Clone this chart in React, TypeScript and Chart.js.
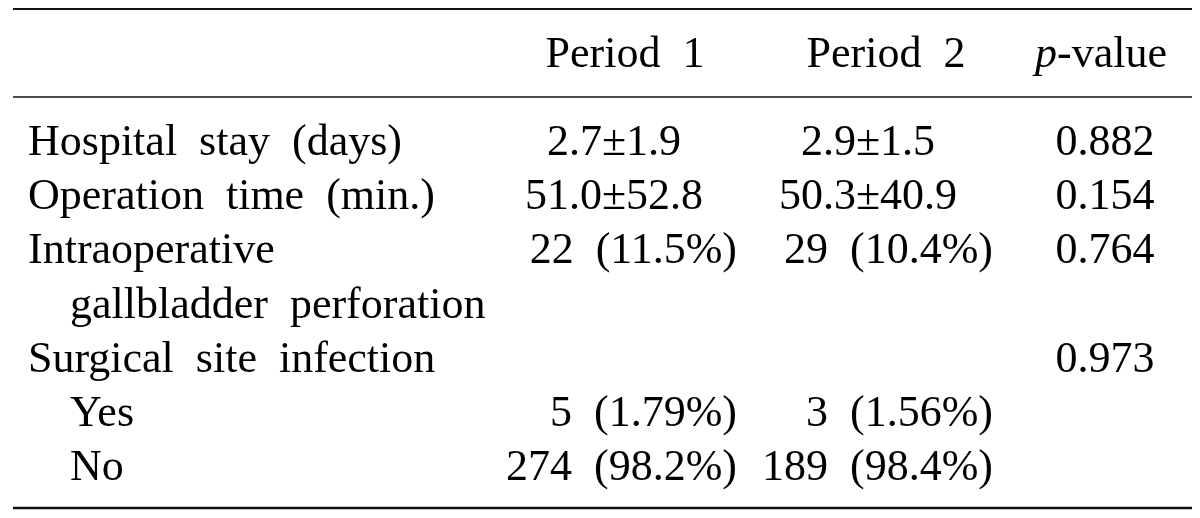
import React, { useEffect, useRef } from "react";
import { Chart, registerables } from "chart.js";

Chart.register(...registerables);

// ---- table content ----
const headers = ["", "Period  1", "Period  2", "p-value"];
const rowLabels = [
  "Hospital  stay  (days)",
  "Operation  time  (min.)",
  "Intraoperative",
  "gallbladder  perforation",
  "Surgical  site  infection",
  "Yes",
  "No",
];
const rowIndent = [0, 0, 0, 1, 0, 1, 1];
const period1 = ["2.7±1.9", "51.0±52.8", "22  (11.5%)", "", "", "5  (1.79%)", "274  (98.2%)"];
const period2 = ["2.9±1.5", "50.3±40.9", "29  (10.4%)", "", "", "3  (1.56%)", "189  (98.4%)"];
const pValues = ["0.882", "0.154", "0.764", "", "0.973", "", ""];

// ---- layout (scale units: x = px across 0..1200, y = row index) ----
const X_MIN = 0, X_MAX = 1200;
const Y_MIN = -2.583, Y_MAX = 6.974;
const LABEL_X = [28, 70];
const COLS = [
  { center: 614, right: 737, header: 625 },
  { center: 868, right: 993, header: 886 },
  { center: 1105, right: 1155, header: 1101 },
];
const HEADER_Y = -1.624;
const RULES = [
  { y: -2.417, w: 2 },
  { y: -0.793, w: 1.6 },
  { y: 6.79, w: 2.4 },
];
const RULE_X = [13, 1192];
const FONT_SIZE = 44;
const FONT_FAMILY = '"Liberation Serif", "Times New Roman", serif';
const BASELINE_SHIFT = 15;

const tablePlugin = {
  id: "tableText",
  afterDatasetsDraw(chart: any) {
    const ctx = chart.ctx;
    const xs = chart.scales.x;
    const ys = chart.scales.y;
    ctx.save();
    ctx.fillStyle = "#000";
    ctx.textBaseline = "alphabetic";
    ctx.font = `${FONT_SIZE}px ${FONT_FAMILY}`;

    // rules
    ctx.strokeStyle = "#111";
    RULES.forEach((r) => {
      const y = ys.getPixelForValue(r.y);
      ctx.lineWidth = r.w;
      ctx.beginPath();
      ctx.moveTo(xs.getPixelForValue(RULE_X[0]), y);
      ctx.lineTo(xs.getPixelForValue(RULE_X[1]), y);
      ctx.stroke();
    });

    // header
    const hy = ys.getPixelForValue(HEADER_Y) + BASELINE_SHIFT;
    ctx.textAlign = "center";
    ctx.fillText(headers[1], xs.getPixelForValue(COLS[0].header), hy);
    ctx.fillText(headers[2], xs.getPixelForValue(COLS[1].header), hy);
    // p-value with italic p
    const italicFont = `italic ${FONT_SIZE}px ${FONT_FAMILY}`;
    const normalFont = `${FONT_SIZE}px ${FONT_FAMILY}`;
    ctx.font = italicFont;
    const pW = ctx.measureText("p").width;
    ctx.font = normalFont;
    const restW = ctx.measureText("-value").width;
    const startX = xs.getPixelForValue(COLS[2].header) - (pW + restW) / 2;
    ctx.textAlign = "left";
    ctx.font = italicFont;
    ctx.fillText("p", startX, hy);
    ctx.font = normalFont;
    ctx.fillText("-value", startX + pW, hy);

    // row labels
    rowLabels.forEach((lab, i) => {
      const y = ys.getPixelForValue(i) + BASELINE_SHIFT;
      ctx.textAlign = "left";
      ctx.fillText(lab, xs.getPixelForValue(LABEL_X[rowIndent[i]]), y);
    });

    // value cells
    [period1, period2, pValues].forEach((col, c) => {
      col.forEach((v, i) => {
        if (!v) return;
        const y = ys.getPixelForValue(i) + BASELINE_SHIFT;
        if (c < 2 && v.includes("%")) {
          ctx.textAlign = "right";
          ctx.fillText(v, xs.getPixelForValue(COLS[c].right), y);
        } else {
          ctx.textAlign = "center";
          ctx.fillText(v, xs.getPixelForValue(COLS[c].center), y);
        }
      });
    });
    ctx.restore();
  },
};

export default function App() {
  const ref = useRef<HTMLCanvasElement | null>(null);
  useEffect(() => {
    document.body.style.margin = "0";
    if (!ref.current) return;
    const mk = (col: string[], c: number) =>
      col.map((v, i) => ({ x: COLS[c].center, y: i })).filter((_, i) => col[i] !== "");
    const chart = new Chart(ref.current, {
      type: "scatter",
      data: {
        datasets: [
          { label: "Period 1", data: mk(period1, 0), pointRadius: 0 },
          { label: "Period 2", data: mk(period2, 1), pointRadius: 0 },
          { label: "p-value", data: mk(pValues, 2), pointRadius: 0 },
        ],
      },
      options: {
        responsive: false,
        animation: false,
        layout: { padding: 0 },
        plugins: { legend: { display: false }, tooltip: { enabled: false } },
        scales: {
          x: { type: "linear", min: X_MIN, max: X_MAX, display: false },
          y: { type: "linear", min: Y_MIN, max: Y_MAX, reverse: true, display: false },
        },
      },
      plugins: [tablePlugin],
    });
    return () => chart.destroy();
  }, []);
  return (
    <div style={{ width: 1200, height: 518, background: "#fff" }}>
      <canvas ref={ref} width={1200} height={518} style={{ display: "block" }} />
    </div>
  );
}
